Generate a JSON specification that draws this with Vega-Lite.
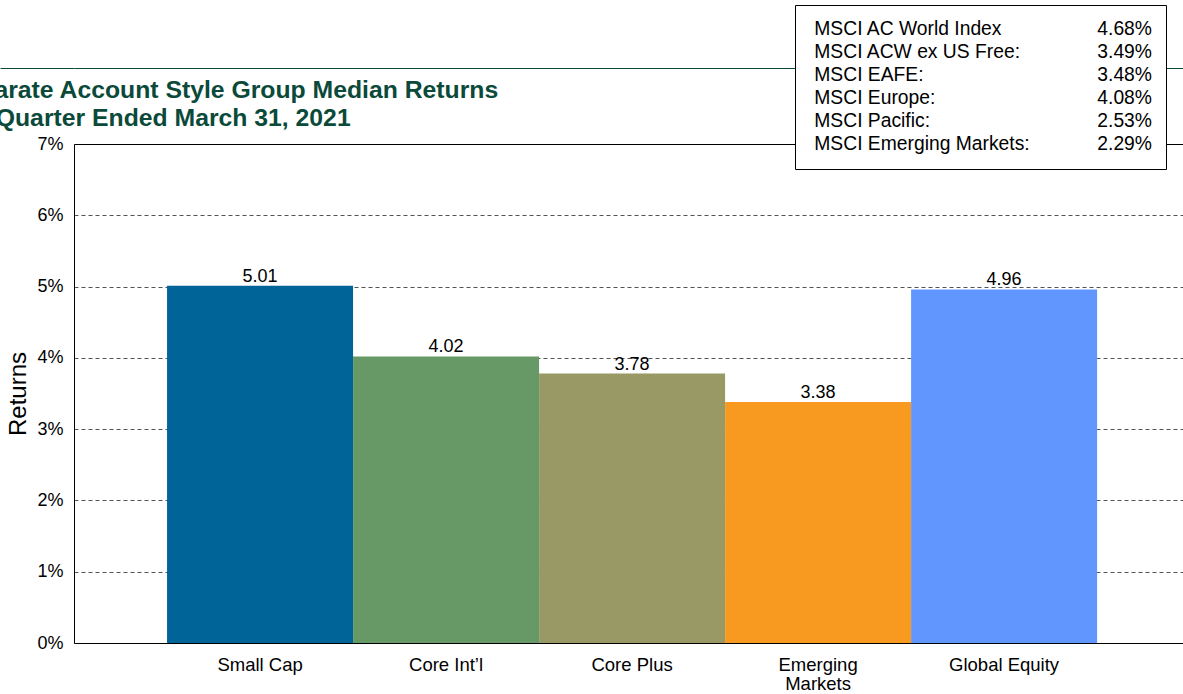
{
  "$schema": "https://vega.github.io/schema/vega-lite/v6.json",
  "autosize": "none",
  "padding": {"left": 74, "top": 144, "right": 0, "bottom": 51},
  "width": 1109,
  "height": 499,
  "background": "white",
  "config": {
    "font": "Liberation Sans",
    "view": {"fill": "#e6e6e6", "stroke": null}
  },
  "title": {
    "text": ["Separate Account Style Group Median Returns", "For Quarter Ended March 31, 2021"],
    "anchor": "start",
    "frame": "group",
    "dx": -125,
    "offset": -126,
    "fontSize": 24.75,
    "fontWeight": "bold",
    "font": "Liberation Sans",
    "color": "#0b4a3a",
    "lineHeight": 28
  },
  "datasets": {
    "styles": [
      {"style": "Small Cap", "ret": 5.01},
      {"style": "Core Int\u2019l", "ret": 4.02},
      {"style": "Core Plus", "ret": 3.78},
      {"style": "Emerging Markets", "ret": 3.38},
      {"style": "Global Equity", "ret": 4.96}
    ],
    "indices": [
      {"name": "MSCI AC World Index", "val": "4.68%"},
      {"name": "MSCI ACW ex US Free:", "val": "3.49%"},
      {"name": "MSCI EAFE:", "val": "3.48%"},
      {"name": "MSCI Europe:", "val": "4.08%"},
      {"name": "MSCI Pacific:", "val": "2.53%"},
      {"name": "MSCI Emerging Markets:", "val": "2.29%"}
    ]
  },
  "layer": [
    {
      "data": {"name": "styles"},
      "mark": {"type": "bar"},
      "encoding": {
        "x": {
          "field": "style", "type": "nominal", "sort": null,
          "scale": {"paddingInner": 0, "paddingOuter": 0.481, "align": 0.52},
          "axis": {
            "orient": "bottom", "title": null, "labelAngle": 0,
            "labelFontSize": 18.5, "labelColor": "black", "labelPadding": 12,
            "ticks": false, "tickSize": 0, "domainColor": "black", "domainWidth": 1,
            "grid": false, "labelBaseline": "top", "labelLineHeight": 19,
            "labelExpr": "length(datum.label) > 13 ? split(datum.label, ' ') : datum.label"
          }
        },
        "y": {
          "field": "ret", "type": "quantitative",
          "scale": {"domain": [0, 7], "nice": false},
          "axis": {
            "orient": "left",
            "values": [0, 1, 2, 3, 4, 5, 6, 7],
            "labelExpr": "datum.value + '%'",
            "title": "Returns", "titleFontSize": 24, "titleFontWeight": "normal",
            "titleColor": "black", "titlePadding": 6,
            "labelFontSize": 18, "labelColor": "black", "labelPadding": 11,
            "ticks": false, "tickSize": 0,
            "domainColor": "black", "domainWidth": 1,
            "grid": true, "gridColor": "#555555", "gridDash": [4, 3], "gridWidth": 1
          }
        },
        "color": {
          "field": "style", "type": "nominal", "sort": null,
          "scale": {
            "domain": ["Small Cap", "Core Int\u2019l", "Core Plus", "Emerging Markets", "Global Equity"],
            "range": ["#006498", "#669966", "#999966", "#f89a20", "#6196ff"]
          },
          "legend": null
        }
      }
    },
    {
      "data": {"name": "styles"},
      "mark": {"type": "text", "baseline": "alphabetic", "dy": -4, "fontSize": 18, "color": "black"},
      "encoding": {
        "x": {
          "field": "style", "type": "nominal", "sort": null,
          "axis": {"orient": "top", "labels": false, "ticks": false, "domain": true, "domainColor": "black", "title": null, "grid": false}
        },
        "y": {
          "field": "ret", "type": "quantitative",
          "axis": {
            "orient": "left", "values": [7], "labels": false, "domain": false,
            "ticks": true, "tickSize": 74, "tickOffset": -76, "tickColor": "#0b4a3a", "tickWidth": 1.2,
            "grid": true, "gridColor": "#0b4a3a", "gridWidth": 1.2, "gridDash": [],
            "title": null
          }
        },
        "text": {"field": "ret", "type": "quantitative", "format": ".2f"}
      }
    },
    {
      "data": {"name": "indices"},
      "transform": [{"fold": ["name", "val"], "as": ["key", "entry"]}],
      "mark": {"type": "point", "opacity": 0},
      "encoding": {
        "shape": {
          "field": "entry", "type": "nominal", "sort": null,
          "legend": {
            "orient": "none", "legendX": 721, "legendY": -139,
            "direction": "horizontal",
            "columns": 2, "gridAlign": "each", "title": null,
            "labelFontSize": 19.3, "labelColor": "black", "labelFont": "Liberation Sans",
            "labelLimit": 500, "labelOffset": -14,
            "symbolSize": 1, "symbolOpacity": 0, "symbolStrokeWidth": 0,
            "rowPadding": 3.1, "columnPadding": 62, "padding": 14,
            "fillColor": "white", "strokeColor": "black"
          }
        }
      }
    }
  ],
  "resolve": {"axis": {"x": "independent", "y": "independent"}}
}
